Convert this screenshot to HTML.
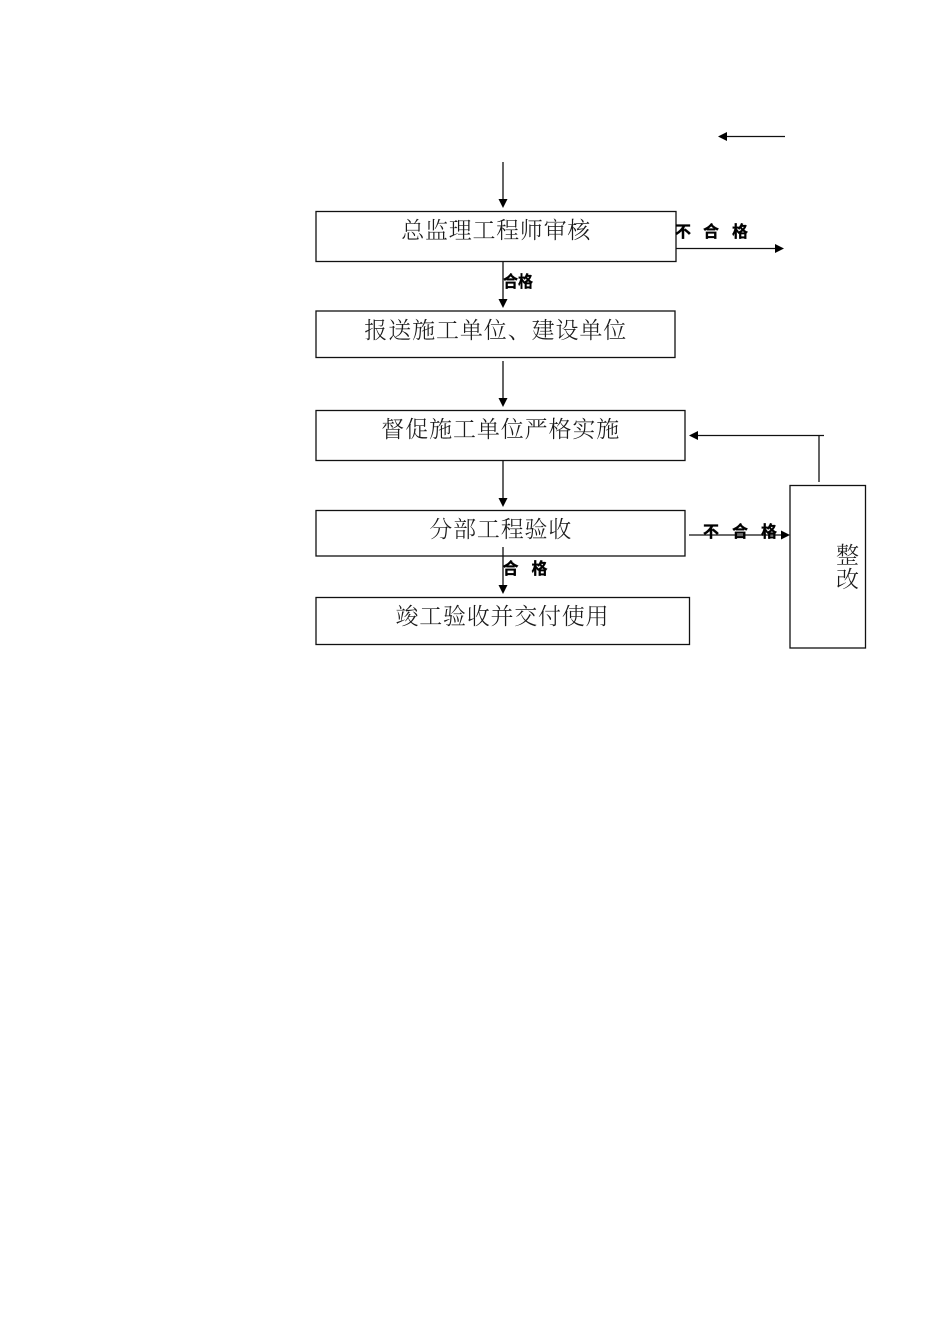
<!DOCTYPE html>
<html lang="zh">
<head>
<meta charset="utf-8">
<title>流程图</title>
<style>
html,body{margin:0;padding:0;background:#fff;width:950px;height:1344px;overflow:hidden}
svg{display:block}
.t{font-family:"Liberation Serif","Noto Serif CJK SC",serif;font-size:23px;fill:#1a1a1a;font-weight:300}
.b{font-family:"Liberation Sans","Noto Sans CJK SC",sans-serif;font-size:16px;font-weight:700;fill:#000;stroke:#000;stroke-width:.35}
rect{fill:#fff;stroke:#111;stroke-width:1.3}
line{stroke:#111;stroke-width:1.3}
polygon{fill:#000}
</style>
</head>
<body>
<svg width="950" height="1344" viewBox="0 0 950 1344" xmlns="http://www.w3.org/2000/svg">
<rect x="316" y="211.500" width="360" height="50"/>
<rect x="316" y="311" width="359" height="46.500"/>
<rect x="316" y="410.500" width="369" height="50"/>
<rect x="316" y="510.500" width="369" height="45.500"/>
<rect x="316" y="597.500" width="373.500" height="47"/>
<rect x="790" y="485.500" width="75.500" height="162.500"/>

<line x1="785" y1="136.500" x2="725" y2="136.500"/><polygon points="718,136.500 727,132 727,141"/>
<line x1="503" y1="162" x2="503" y2="200"/><polygon points="503,208 498.500,199 507.500,199"/>
<line x1="676" y1="248.500" x2="776" y2="248.500"/><polygon points="784,248.500 775,244 775,253"/>
<line x1="503" y1="262" x2="503" y2="300"/><polygon points="503,308 498.500,299 507.500,299"/>
<line x1="503" y1="361" x2="503" y2="399"/><polygon points="503,407 498.500,398 507.500,398"/>
<line x1="503" y1="461" x2="503" y2="499"/><polygon points="503,507 498.500,498 507.500,498"/>
<line x1="503" y1="547" x2="503" y2="586"/><polygon points="503,594 498.500,585 507.500,585"/>
<line x1="689" y1="535" x2="782" y2="535"/><polygon points="790,535 781,530.500 781,539.500"/>
<line x1="819" y1="482" x2="819" y2="435.500"/>
<line x1="824" y1="435.500" x2="697" y2="435.500"/><polygon points="689,435.500 698,431 698,440"/>

<text class="t" x="401.300" y="238" textLength="189" lengthAdjust="spacing">总监理工程师审核</text>
<text class="t" x="364.300" y="338" textLength="262" lengthAdjust="spacing">报送施工单位、建设单位</text>
<text class="t" x="381.300" y="437" textLength="238" lengthAdjust="spacing">督促施工单位严格实施</text>
<text class="t" x="429.300" y="537" textLength="142" lengthAdjust="spacing">分部工程验收</text>
<text class="t" x="395.500" y="624" textLength="213" lengthAdjust="spacing">竣工验收并交付使用</text>
<text class="t" x="836" y="563">整</text>
<text class="t" x="836" y="587">改</text>

<text class="b" x="675" y="237">不</text>
<text class="b" x="703" y="237">合</text>
<text class="b" x="732" y="237">格</text>
<text class="b" x="503" y="287" textLength="30" lengthAdjust="spacingAndGlyphs">合格</text>
<text class="b" x="703" y="537">不</text>
<text class="b" x="732" y="537">合</text>
<text class="b" x="761" y="537">格</text>
<text class="b" x="502.500" y="574">合</text>
<text class="b" x="531.500" y="574">格</text>
</svg>
</body>
</html>
